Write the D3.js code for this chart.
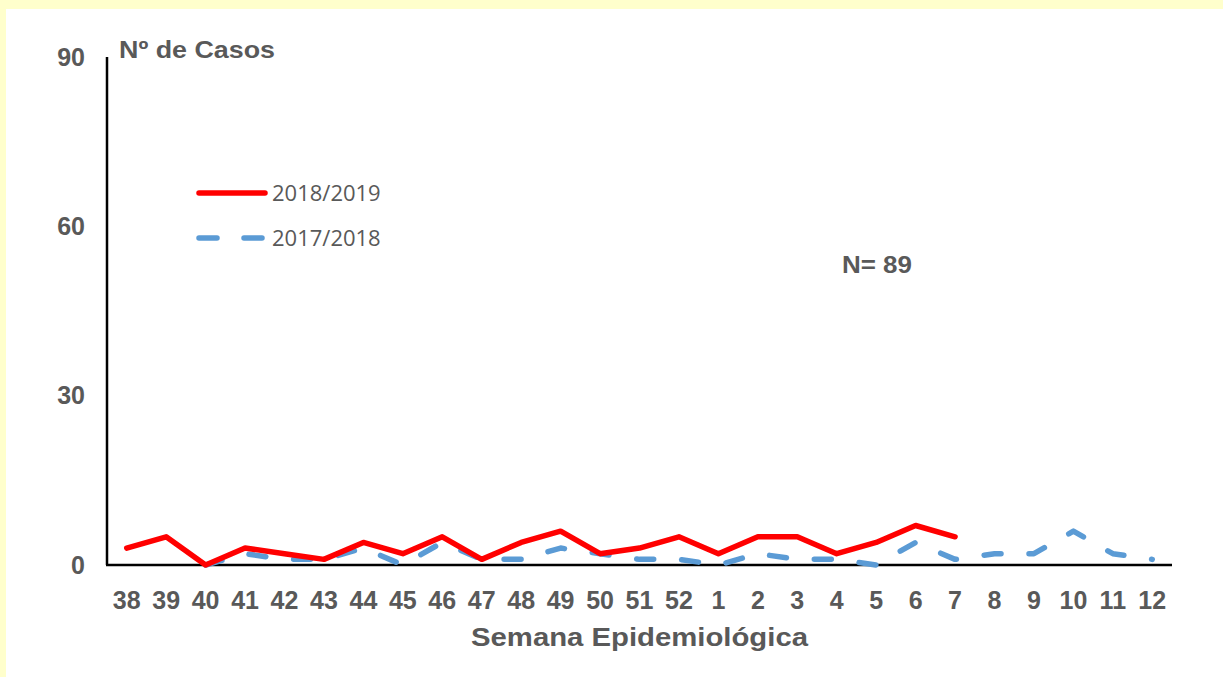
<!DOCTYPE html>
<html>
<head>
<meta charset="utf-8">
<script src="https://cdn.jsdelivr.net/npm/d3@7"></script>
<style>
  html, body { margin: 0; padding: 0; background: #FFFFCC; }
  svg { display: block; }
</style>
</head>
<body>
<script>
// Epidemiological weeks on the x axis (season runs from week 38 to week 12)
const weeks = ["38","39","40","41","42","43","44","45","46","47","48","49","50","51","52",
               "1","2","3","4","5","6","7","8","9","10","11","12"];

// Weekly case counts, season 2018/2019 (weeks 38 to 7)
const weeks1819 = ["38","39","40","41","42","43","44","45","46","47","48","49","50","51","52",
                   "1","2","3","4","5","6","7"];
const cases1819 = [3, 5, 0, 3, 2, 1, 4, 2, 5, 1, 4, 6, 2, 3, 5, 2, 5, 5, 2, 4, 7, 5];

// Weekly case counts, season 2017/2018 (weeks 40 to 12)
const weeks1718 = ["40","41","42","43","44","45","46","47","48","49","50","51","52",
                   "1","2","3","4","5","6","7","8","9","10","11","12"];
const cases1718 = [0, 2, 1, 1, 3, 0, 4, 1, 1, 3, 2, 1, 1, 0, 2, 1, 1, 0, 4, 1, 2, 2, 6, 2, 1];

const yTicks = [0, 30, 60, 90];
const seriesNames = ["2018/2019", "2017/2018"];
const totalLabel = "N= 89";

const W = 1223, H = 677;
const grey = "#595959";
const red = "#FF0000";
const blue = "#5B9BD5";

const svg = d3.select("body").append("svg")
  .attr("width", W).attr("height", H);

// pale yellow frame around a white panel
svg.append("rect").attr("x", 0).attr("y", 0).attr("width", W).attr("height", H).attr("fill", "#FFFFCC");
svg.append("rect").attr("x", 6).attr("y", 9).attr("width", W - 6).attr("height", H - 9).attr("fill", "#FFFFFF");

const plot = { left: 107, right: 1172, top: 57, bottom: 565 };

const x = d3.scaleBand().domain(weeks).range([plot.left, plot.right]);
const y = d3.scaleLinear().domain([0, 90]).range([plot.bottom, plot.top]);
const cx = w => x(w) + x.bandwidth() / 2;

// y axis: labels only, plus the vertical rule
const yAxis = svg.append("g")
  .attr("transform", `translate(${plot.left},0)`)
  .call(d3.axisLeft(y).tickValues(yTicks).tickSize(0).tickPadding(22));
yAxis.select(".domain").remove();
yAxis.selectAll("text")
  .attr("fill", grey)
  .style("font-family", "'Liberation Sans', Arial, sans-serif")
  .style("font-weight", "bold")
  .style("font-size", "25px");

svg.append("line")
  .attr("x1", plot.left).attr("x2", plot.left)
  .attr("y1", y(90)).attr("y2", y(0))
  .attr("stroke", "#000").attr("stroke-width", 2.5);

// x axis
const xAxis = svg.append("g")
  .attr("transform", `translate(0,${plot.bottom})`)
  .call(d3.axisBottom(x).tickSize(0).tickPadding(26));
xAxis.select(".domain").remove();
xAxis.selectAll("text")
  .attr("fill", grey)
  .style("font-family", "'Liberation Sans', Arial, sans-serif")
  .style("font-weight", "bold")
  .style("font-size", "25px");

svg.append("line")
  .attr("x1", plot.left - 1).attr("x2", plot.right)
  .attr("y1", y(0)).attr("y2", y(0))
  .attr("stroke", "#000").attr("stroke-width", 2.5);

// series lines
const line = d3.line().x(d => cx(d[0])).y(d => y(d[1]));

svg.append("path")
  .datum(d3.zip(weeks1718, cases1718))
  .attr("d", line)
  .attr("fill", "none")
  .attr("stroke", blue)
  .attr("stroke-width", 5.5)
  .attr("stroke-linecap", "round")
  .attr("stroke-linejoin", "round")
  .attr("stroke-dasharray", "17,28");

svg.append("path")
  .datum(d3.zip(weeks1819, cases1819))
  .attr("d", line)
  .attr("fill", "none")
  .attr("stroke", red)
  .attr("stroke-width", 5.5)
  .attr("stroke-linecap", "round")
  .attr("stroke-linejoin", "round");

// legend
const legend = svg.append("g");
const legendRows = [
  { name: seriesNames[0], color: red, dash: null, yPos: 193 },
  { name: seriesNames[1], color: blue, dash: "18,27", yPos: 238 }
];
legendRows.forEach(r => {
  legend.append("line")
    .attr("x1", 199).attr("x2", 265)
    .attr("y1", r.yPos).attr("y2", r.yPos)
    .attr("stroke", r.color).attr("stroke-width", 5.5)
    .attr("stroke-linecap", "round")
    .attr("stroke-dasharray", r.dash);
  legend.append("text")
    .attr("x", 272).attr("y", r.yPos)
    .attr("dy", "0.35em")
    .attr("fill", grey)
    .style("font-family", "'Open Sans', sans-serif")
    .style("font-size", "22px")
    .text(r.name);
});

// titles and annotations
const boldText = (txt, xPos, yPos, size, anchor, len) => {
  const t = svg.append("text")
    .attr("x", xPos).attr("y", yPos)
    .attr("text-anchor", anchor)
    .attr("fill", grey)
    .style("font-family", "'Liberation Sans', Arial, sans-serif")
    .style("font-weight", "bold")
    .style("font-size", size + "px")
    .text(txt);
  if (len) t.attr("textLength", len).attr("lengthAdjust", "spacingAndGlyphs");
  return t;
};

boldText("Nº de Casos", 119, 58, 24, "start", 156);
boldText("Semana Epidemiológica", (plot.left + plot.right) / 2, 646, 25, "middle", 337);
boldText(totalLabel, 842, 273, 24, "start", 70);
</script>
</body>
</html>
